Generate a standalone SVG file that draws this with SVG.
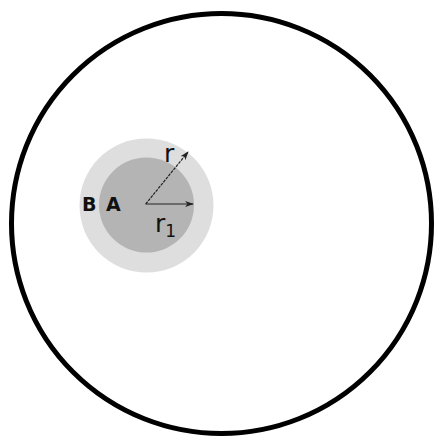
<svg xmlns="http://www.w3.org/2000/svg" width="434" height="441" viewBox="0 0 434 441">
<style>
.lbl{font-family:"DejaVu Sans","Liberation Sans",sans-serif;fill:#111}
.bold{font-weight:bold;font-size:19px}
.arr{stroke:#222;stroke-width:1.2;fill:none}
</style>
<defs>
<marker id="ah" viewBox="0 0 10 10" refX="9" refY="5" markerWidth="9" markerHeight="9" markerUnits="userSpaceOnUse" orient="auto">
<path d="M0,1.5 L10,5 L0,8.5 L3,5 Z" fill="#222"/>
</marker>
</defs>
<rect width="434" height="441" fill="#fff"/>
<g id="outer"><circle cx="221.5" cy="223.5" r="210" fill="none" stroke="#000" stroke-width="5"/></g>
<g id="regionB"><circle cx="146.5" cy="205.5" r="67" fill="#dedede"/><text class="lbl bold" x="82" y="211">B</text></g>
<g id="regionA"><circle cx="146.5" cy="205" r="47.5" fill="#b4b4b4"/><text class="lbl bold" x="106" y="211">A</text></g>
<g id="connectors">
<line class="arr" x1="145.7" y1="204" x2="193" y2="204" marker-end="url(#ah)"/>
<line class="arr" x1="145.7" y1="204" x2="188" y2="152" stroke-dasharray="3,1" marker-end="url(#ah)"/>
</g>
<g id="labels">
<text class="lbl" x="164" y="162" font-size="25">r</text>
<text class="lbl" x="155" y="232" font-size="25">r<tspan font-size="17" dy="5">1</tspan></text>
</g>
</svg>
